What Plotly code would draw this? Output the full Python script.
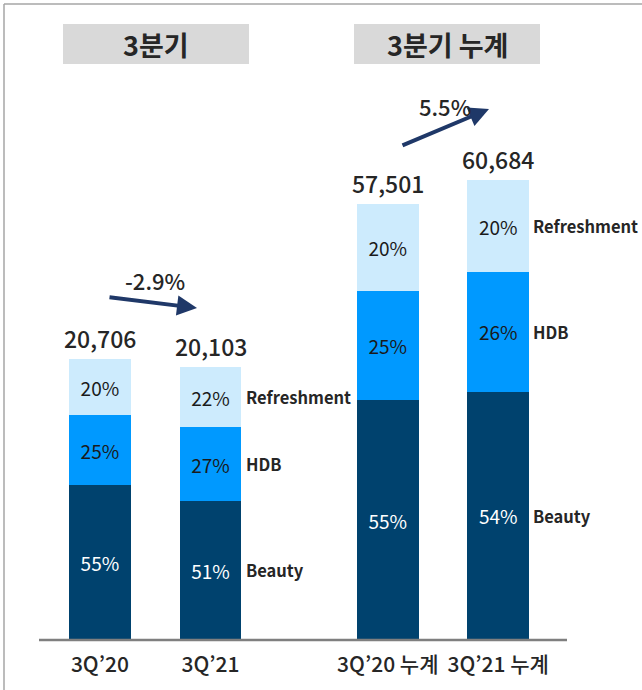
import plotly.graph_objects as go

# ---------------- data ----------------
quarter_cats = ["3Q\u201920", "3Q\u201921"]
cumul_cats = ["3Q\u201920 \ub204\uacc4", "3Q\u201921 \ub204\uacc4"]
quarter_totals = [20706, 20103]
cumul_totals = [57501, 60684]
segments = ["Beauty", "HDB", "Refreshment"]
quarter_pct = {"Beauty": [55, 51], "HDB": [25, 27], "Refreshment": [20, 22]}
cumul_pct = {"Beauty": [55, 54], "HDB": [25, 26], "Refreshment": [20, 20]}
quarter_growth = "-2.9%"
cumul_growth = "5.5%"
headers = ["3\ubd84\uae30", "3\ubd84\uae30 \ub204\uacc4"]

colors = {"Beauty": "#00426E", "HDB": "#0099FF", "Refreshment": "#CDEBFD"}
text_colors = {"Beauty": "#FFFFFF", "HDB": "#1A1A1A", "Refreshment": "#1A1A1A"}

W, H = 642, 690
FONT = "Noto Sans CJK KR, Noto Sans, sans-serif"
DARK = "#262626"


def px(x):
    return x / W


def py(y):
    return 1 - y / H


fig = go.Figure()

groups = [
    ("x", "y", quarter_cats, quarter_totals, quarter_pct),
    ("x2", "y2", cumul_cats, cumul_totals, cumul_pct),
]

for xa, ya, cats, totals, pct in groups:
    for seg in segments:
        vals = [t * p / 100 for t, p in zip(totals, pct[seg])]
        fig.add_trace(go.Bar(
            x=cats, y=vals, xaxis=xa, yaxis=ya,
            marker=dict(color=colors[seg], line=dict(width=0)),
            text=[f"{p}%" for p in pct[seg]],
            textposition="inside", insidetextanchor="middle",
            textangle=0, constraintext="none",
            textfont=dict(family=FONT, size=19, color=text_colors[seg]),
            hoverinfo="skip", showlegend=False, name=seg,
        ))

annotations = []
for xa, ya, cats, totals, pct in groups:
    # totals above bars
    for c, t in zip(cats, totals):
        annotations.append(dict(
            x=c, y=t, xref=xa, yref=ya, text=f"{t:,}", showarrow=False,
            xanchor="center", yanchor="bottom", yshift=2,
            font=dict(family=FONT, size=23, color=DARK, weight=500),
        ))
    # segment names to the right of the last bar
    last = cats[-1]
    cum = 0
    for seg in segments:
        v = totals[-1] * pct[seg][-1] / 100
        annotations.append(dict(
            x=last, y=cum + v / 2, xref=xa, yref=ya, text=seg, showarrow=False,
            xanchor="left", yanchor="middle", xshift=33,
            font=dict(family=FONT, size=16.5, color=DARK, weight="bold"),
        ))
        cum += v

# growth arrows and labels
annotations.append(dict(
    x=px(197), y=py(308), ax=-89, ay=-11, xref="paper", yref="paper",
    axref="pixel", ayref="pixel", text="", showarrow=True,
    arrowhead=2, arrowsize=1, arrowwidth=4, arrowcolor="#1F3868",
))
annotations.append(dict(
    x=px(155), y=py(280), xref="paper", yref="paper", text=quarter_growth,
    xanchor="center", yanchor="middle",
    showarrow=False, font=dict(family=FONT, size=22, color=DARK, weight=500),
))
annotations.append(dict(
    x=px(489), y=py(109), ax=-88, ay=37, xref="paper", yref="paper",
    axref="pixel", ayref="pixel", text="", showarrow=True,
    arrowhead=2, arrowsize=1, arrowwidth=4, arrowcolor="#1F3868",
))
annotations.append(dict(
    x=px(445), y=py(106), xref="paper", yref="paper", text=cumul_growth,
    xanchor="center", yanchor="middle",
    showarrow=False, font=dict(family=FONT, size=22, color=DARK, weight=500),
))

# header boxes
shapes = []
for (x0, x1), label in zip([(63, 249), (354, 540)], headers):
    shapes.append(dict(type="rect", xref="paper", yref="paper",
                       x0=px(x0), x1=px(x1), y0=py(64), y1=py(24),
                       fillcolor="#D9D9D9", line=dict(width=0), layer="below"))
    annotations.append(dict(
        x=px((x0 + x1) / 2), y=py(44), xref="paper", yref="paper", text=label,
        xanchor="center", yanchor="middle",
        showarrow=False, font=dict(family=FONT, size=27, color=DARK, weight="bold"),
    ))

# frame lines (top, left) and baseline
shapes.append(dict(type="line", xref="paper", yref="paper", x0=px(4), x1=1,
                   y0=py(4), y1=py(4), line=dict(color="#A6A6A6", width=1.5)))
shapes.append(dict(type="line", xref="paper", yref="paper", x0=px(4), x1=px(4),
                   y0=py(4), y1=0, line=dict(color="#A6A6A6", width=1.5)))
shapes.append(dict(type="line", xref="paper", yref="paper", x0=px(39), x1=px(567),
                   y0=py(640), y1=py(640), line=dict(color="#7F7F7F", width=2.5)))

ydom = [py(640), 1]
axis_common = dict(showgrid=False, zeroline=False, showline=False, ticks="",
                   tickfont=dict(family=FONT, size=21, color=DARK, weight=500),
                   ticklabelstandoff=10, fixedrange=True, automargin=False,
                   tickangle=0, range=[-0.5, 1.5], autorange=False)
fig.update_layout(
    width=W, height=H,
    margin=dict(l=0, r=0, t=0, b=0, autoexpand=False),
    paper_bgcolor="white", plot_bgcolor="white",
    barmode="stack", bargap=0.443,
    xaxis=dict(domain=[px(44.6), px(265.8)], anchor="y", **axis_common),
    xaxis2=dict(domain=[px(332.6), px(553.4)], anchor="y2", **axis_common),
    yaxis=dict(domain=ydom, range=[0, 47160], autorange=False, visible=False,
               anchor="x", automargin=False),
    yaxis2=dict(domain=ydom, range=[0, 84430], autorange=False, visible=False,
                anchor="x2", automargin=False),
    annotations=annotations, shapes=shapes,
    showlegend=False,
)

fig.write_html("out.html", config={"displayModeBar": False},
               post_script="document.body.style.margin='0';document.body.style.overflow='hidden';")
